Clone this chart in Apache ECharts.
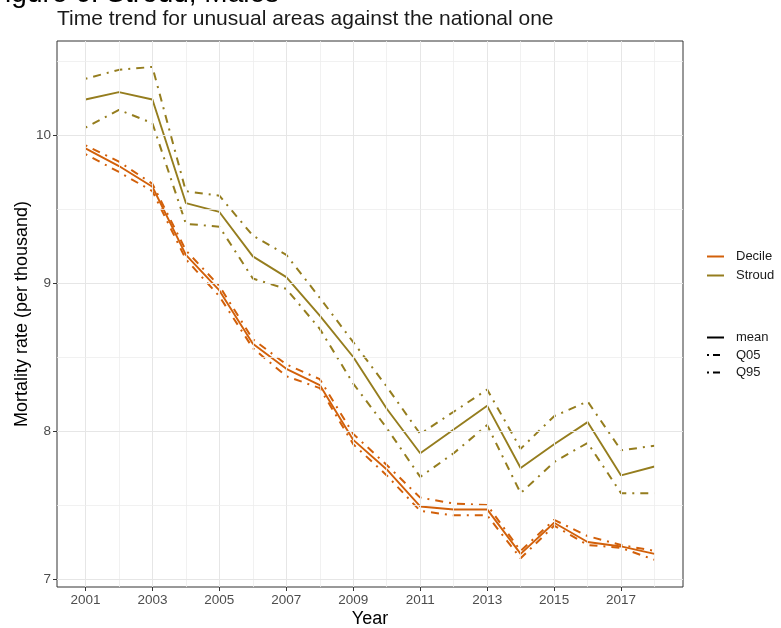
<!DOCTYPE html>
<html>
<head>
<meta charset="utf-8">
<script src="https://cdn.jsdelivr.net/npm/echarts@6/dist/echarts.min.js"></script>
<style>
  html, body { margin: 0; padding: 0; background: #ffffff; }
  #chart { width: 781px; height: 628px; }
</style>
</head>
<body>
<div id="chart"></div>
<script>
// Years on the x axis
const years = [2001, 2002, 2003, 2004, 2005, 2006, 2007, 2008, 2009,
               2010, 2011, 2012, 2013, 2014, 2015, 2016, 2017, 2018];

// Mortality rate (per thousand): Stroud
const stroudMean = [10.24, 10.29, 10.24, 9.54, 9.48, 9.18, 9.04, 8.78, 8.50,
                    8.15, 7.85, 8.01, 8.17, 7.75, 7.91, 8.06, 7.70, 7.76];
const stroudQ95  = [10.38, 10.44, 10.46, 9.62, 9.59, 9.32, 9.19, 8.90, 8.60,
                    8.30, 7.98, 8.13, 8.28, 7.88, 8.10, 8.20, 7.87, 7.90];
const stroudQ05  = [10.05, 10.17, 10.08, 9.40, 9.38, 9.03, 8.96, 8.69, 8.32,
                    8.02, 7.69, 7.85, 8.04, 7.58, 7.79, 7.92, 7.58, 7.58];

// Mortality rate (per thousand): Decile
const decileMean = [9.91, 9.79, 9.65, 9.19, 8.95, 8.59, 8.42, 8.31, 7.94,
                    7.74, 7.49, 7.47, 7.47, 7.17, 7.38, 7.25, 7.22, 7.17];
const decileQ95  = [9.93, 9.82, 9.67, 9.22, 8.98, 8.62, 8.45, 8.35, 7.98,
                    7.77, 7.55, 7.51, 7.50, 7.19, 7.40, 7.29, 7.23, 7.19];
const decileQ05  = [9.87, 9.75, 9.62, 9.16, 8.91, 8.56, 8.37, 8.29, 7.91,
                    7.70, 7.46, 7.43, 7.43, 7.14, 7.36, 7.23, 7.21, 7.13];

// Tick labels
const xTicks = [2001, 2003, 2005, 2007, 2009, 2011, 2013, 2015, 2017];
const yTicks = [7, 8, 9, 10];
const yMinorGrid = [7.5, 8.5, 9.5, 10.5];

const COL_DECILE = '#D2600A';
const COL_STROUD = '#957D1E';
const DOTDASH = [2, 6, 8, 6];
const FONT = 'Liberation Sans, Arial, sans-serif';

const pairs = (ys) => years.map((y, i) => [y, ys[i]]);

function lineSeries(name, color, values, dashed) {
  return {
    name: name,
    type: 'line',
    data: pairs(values),
    showSymbol: false,
    symbol: 'none',
    silent: true,
    z: 3,
    lineStyle: { color: color, width: dashed ? 2 : 1.9, type: dashed ? DOTDASH : 'solid' },
    itemStyle: { color: color }
  };
}

// Grid lines drawn through the axes' own scales
const minorYears = years.filter(y => xTicks.indexOf(y) < 0);
const gridLines = [];
const major = { color: '#e6e6e6', width: 1, type: 'solid' };
const minor = { color: '#ededed', width: 0.8, type: 'solid' };
xTicks.forEach(v => gridLines.push({ xAxis: v, lineStyle: major }));
minorYears.forEach(v => gridLines.push({ xAxis: v, lineStyle: minor }));
yTicks.forEach(v => gridLines.push({ yAxis: v, lineStyle: major }));
yMinorGrid.forEach(v => gridLines.push({ yAxis: v, lineStyle: minor }));

const chart = echarts.init(document.getElementById('chart'), null, { renderer: 'canvas' });

const legendCommon = {
  orient: 'vertical',
  left: 706,
  padding: 0,
  itemWidth: 17,
  itemHeight: 14,
  selectedMode: false,
  itemStyle: { opacity: 0 },
  textStyle: { fontFamily: FONT, fontSize: 13, color: '#1a1a1a', padding: [0, 0, 0, 7] }
};

chart.setOption({
  backgroundColor: '#ffffff',
  animation: false,
  textStyle: { fontFamily: FONT },
  title: {
    text: 'Time trend for unusual areas against the national one',
    left: 57,
    top: 9,
    padding: 0,
    textStyle: { fontFamily: FONT, fontSize: 21, fontWeight: 'normal', color: '#1a1a1a' }
  },
  graphic: [{
    type: 'text',
    left: -12,
    top: -20,
    silent: true,
    style: {
      text: 'Figure 6: Stroud, Males',
      font: '28px ' + FONT,
      fill: '#000000'
    }
  }],
  grid: {
    left: 57, right: 98, top: 41, bottom: 41,
    containLabel: false,
    outerBoundsMode: 'none',
    show: true,
    borderColor: '#333333',
    borderWidth: 1,
    backgroundColor: '#ffffff'
  },
  legend: [
    Object.assign({}, legendCommon, { data: ['Decile', 'Stroud'], top: 250, itemGap: 6 }),
    Object.assign({}, legendCommon, { data: ['mean', 'Q05', 'Q95'], top: 331, itemGap: 4.5 })
  ],
  xAxis: {
    type: 'value',
    min: 2000.15,
    max: 2018.85,
    name: 'Year',
    nameLocation: 'middle',
    nameGap: 23,
    nameMoveOverlap: false,
    nameTextStyle: { fontFamily: FONT, fontSize: 18, color: '#000000' },
    axisLine: { show: false },
    splitLine: { show: false },
    axisTick: { show: true, customValues: xTicks, length: 4, lineStyle: { color: '#333333' } },
    axisLabel: {
      customValues: xTicks,
      margin: 6,
      fontFamily: FONT,
      fontSize: 13.5,
      color: '#4d4d4d',
      formatter: v => String(v)
    }
  },
  yAxis: {
    type: 'value',
    min: 6.946,
    max: 10.635,
    name: 'Mortality rate (per thousand)',
    nameLocation: 'middle',
    nameGap: 26,
    nameMoveOverlap: false,
    nameTextStyle: { fontFamily: FONT, fontSize: 18, color: '#000000' },
    axisLine: { show: false },
    splitLine: { show: false },
    axisTick: { show: true, customValues: yTicks, length: 4, lineStyle: { color: '#333333' } },
    axisLabel: {
      customValues: yTicks,
      margin: 6,
      fontFamily: FONT,
      fontSize: 13.5,
      color: '#4d4d4d',
      formatter: v => String(v)
    }
  },
  series: [
    {
      name: 'grid',
      type: 'line',
      data: [],
      silent: true,
      z: 1,
      markLine: {
        silent: true,
        symbol: ['none', 'none'],
        label: { show: false },
        animation: false,
        data: gridLines
      }
    },
    lineSeries('Decile', COL_DECILE, decileMean, false),
    lineSeries('Decile', COL_DECILE, decileQ05, true),
    lineSeries('Decile', COL_DECILE, decileQ95, true),
    lineSeries('Stroud', COL_STROUD, stroudMean, false),
    lineSeries('Stroud', COL_STROUD, stroudQ05, true),
    lineSeries('Stroud', COL_STROUD, stroudQ95, true),
    // Line-type keys for the second legend
    { name: 'mean', type: 'line', data: [], symbol: 'none', lineStyle: { color: '#000000', width: 2.5, type: 'solid' }, itemStyle: { color: '#000000' } },
    { name: 'Q05', type: 'line', data: [], symbol: 'none', lineStyle: { color: '#000000', width: 2.5, type: [2, 4, 7, 4] }, itemStyle: { color: '#000000' } },
    { name: 'Q95', type: 'line', data: [], symbol: 'none', lineStyle: { color: '#000000', width: 2.5, type: [2, 4, 7, 4] }, itemStyle: { color: '#000000' } }
  ]
});
</script>
</body>
</html>
